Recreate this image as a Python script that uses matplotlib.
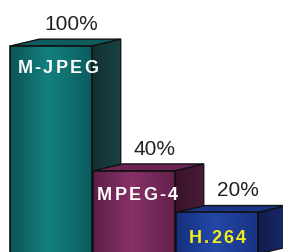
import numpy as np
import matplotlib
matplotlib.use('Agg')
from matplotlib import pyplot as plt
from matplotlib.patches import Polygon, Rectangle
from matplotlib.colors import LinearSegmentedColormap

names = ['M-JPEG', 'MPEG-4', 'H.264']
values = [100, 40, 20]
pct_labels = ['100%', '40%', '20%']
name_colors = ['white', 'white', '#f2ee1c']
front_cols = [('#0a5557', '#14807f'), ('#5e1f47', '#863168'), ('#15307e', '#2447a6')]
side_cols = ['#1a4446', '#4d1b38', '#182a6c']
top_cols = ['#0e5c5d', '#6c2452', '#1a3686']

width = 0.98
dx = 0.35   # depth offset in x (data units)
dy = 3.3    # depth offset in y (value units)

fig = plt.figure(figsize=(2.83, 2.53), dpi=100)
ax = fig.add_axes([0, 0, 1, 1])
ax.set_xlim(-0.614, 2.795)
ax.set_ylim(0.96, 122.6)
ax.axis('off')

plt.rcParams['font.family'] = ['Liberation Sans', 'DejaVu Sans']


def spaced_text(x, y, s, color, size, gap):
    # draw string letter by letter with extra tracking, centred on x
    r = fig.canvas.get_renderer()
    inv = ax.transData.inverted()
    ws = []
    for ch in s:
        t = ax.text(0, 0, ch, fontsize=size, fontweight='bold')
        bb = t.get_window_extent(renderer=r)
        ws.append(bb.width)
        t.remove()
    total = sum(ws) + gap * (len(s) - 1)
    px, py = ax.transData.transform((x, y))
    cur = px - total / 2
    for ch, w in zip(s, ws):
        xd, yd = inv.transform((cur, py))
        ax.text(xd, yd, ch, fontsize=size, fontweight='bold', color=color,
                ha='left', va='center', zorder=10)
        cur += w + gap


for i, v in enumerate(values):
    x0 = i - width / 2
    x1 = i + width / 2
    # side face
    side = Polygon([(x1, 0), (x1 + dx, dy), (x1 + dx, v + dy), (x1, v)],
                   closed=True, facecolor=side_cols[i], edgecolor='#111111',
                   lw=1.0, zorder=2 + i * 3)
    ax.add_patch(side)
    sgrad = np.linspace(0.0, 1.0, 64).reshape(1, -1)
    scm = LinearSegmentedColormap.from_list('s', ['#000000', side_cols[i]])
    im = ax.imshow(sgrad, extent=(x1, x1 + dx, 0, v + dy), cmap=scm, aspect='auto',
                   alpha=0.3, zorder=2 + i * 3)
    im.set_clip_path(side)
    # top face
    top = Polygon([(x0, v), (x0 + dx, v + dy), (x1 + dx, v + dy), (x1, v)],
                  closed=True, facecolor=top_cols[i], edgecolor='#111111',
                  lw=1.0, zorder=3 + i * 3)
    ax.add_patch(top)
    # front face with horizontal gradient
    front = Rectangle((x0, 0), width, v, facecolor='none', edgecolor='#111111',
                      lw=1.2, zorder=4 + i * 3)
    ax.add_patch(front)
    g = np.concatenate([np.linspace(0, 1, 30), np.linspace(1, 0.15, 34)]).reshape(1, -1)
    cm = LinearSegmentedColormap.from_list('f', [front_cols[i][0], front_cols[i][1]])
    im = ax.imshow(g, extent=(x0, x1, 0, v), cmap=cm, aspect='auto', zorder=4 + i * 3 - 0.5)
    im.set_clip_path(front)

    ax.text(i + 0.25, v + dy + 7.5, pct_labels[i], fontsize=15, color='#222222',
            ha='center', va='center', zorder=20)
    spaced_text(i + 0.08 - 0.04 * i, v - 10.5 - 0.9 * i, names[i], name_colors[i], 13, 2.2)

fig.savefig('out.png', dpi=100)
